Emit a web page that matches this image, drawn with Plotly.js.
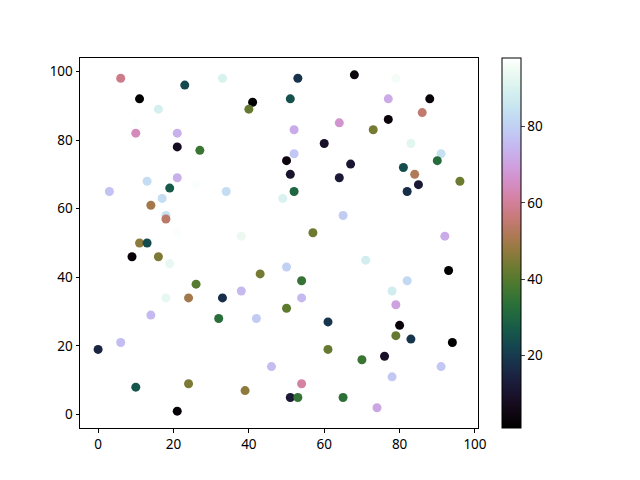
<!DOCTYPE html>
<html>
<head>
<meta charset="utf-8">
<script src="https://cdn.plot.ly/plotly-3.0.1.min.js"></script>
<style>body{margin:0}</style>
</head>
<body>
<div id="chart" style="width:640px;height:480px"></div>
<script>
// scatter points (x, y, colour value)
const xs = [6, 23, 33, 11, 41, 40, 16, 51, 10, 10, 21, 21, 27, 50, 51, 21, 26, 13, 3, 19,
            34, 17, 49, 14, 18, 18, 21, 38, 11, 13, 53, 68, 79, 77, 88, 86, 77, 64, 73, 52,
            60, 83, 52, 91, 67, 81, 90, 84, 64, 85, 96, 82, 52, 65, 57, 92, 9, 16, 19, 43,
            50, 26, 18, 24, 33, 38, 32, 42, 50, 14, 0, 6, 46, 10, 24, 39, 21, 51, 71, 93,
            54, 82, 78, 54, 79, 61, 80, 79, 83, 94, 61, 70, 76, 91, 78, 54, 53, 65, 74];
const ys = [98, 96, 98, 92, 91, 89, 89, 92, 85, 82, 82, 78, 77, 74, 70, 69, 67, 68, 65, 66,
            65, 63, 63, 61, 58, 57, 53, 52, 50, 50, 98, 99, 98, 92, 92, 88, 86, 85, 83, 83,
            79, 79, 76, 76, 73, 72, 74, 70, 69, 67, 68, 65, 65, 58, 53, 52, 46, 46, 44, 41,
            43, 38, 34, 34, 34, 36, 28, 28, 31, 29, 19, 21, 14, 8, 9, 7, 1, 5, 45, 42,
            39, 39, 36, 34, 32, 27, 26, 23, 22, 21, 19, 16, 17, 14, 11, 9, 5, 5, 2];
const vals = [58, 23, 90, 1, 1, 42, 89, 25, 97, 64, 73, 8, 36, 4, 10, 73, 97, 83, 77, 27,
              83, 83, 90, 50, 84, 54, 97, 94, 47, 24, 18, 4, 96, 72, 3, 55, 3, 67, 44, 72,
              9, 92, 78, 84, 11, 24, 32, 52, 12, 12, 43, 17, 30, 79, 43, 72, 3, 45, 93, 44,
              80, 40, 93, 50, 17, 75, 33, 79, 41, 75, 15, 76, 76, 26, 45, 47, 2, 12, 88, 1,
              35, 82, 88, 75, 70, 19, 3, 42, 19, 1, 42, 36, 9, 78, 78, 61, 35, 34, 71];
const cbTicks = [20, 40, 60, 80];

// matplotlib's cubehelix colormap
function cubehelix(n) {
  const out = [];
  for (let i = 0; i < n; i++) {
    const x = i / (n - 1);
    const a = x * (1 - x) / 2;
    const phi = 2 * Math.PI * (0.5 / 3 - 1.5 * x);
    const c = Math.cos(phi), s = Math.sin(phi);
    const clip = v => Math.round(255 * Math.min(1, Math.max(0, v)));
    const r = clip(x + a * (-0.14861 * c + 1.78277 * s));
    const g = clip(x + a * (-0.29227 * c - 0.90649 * s));
    const b = clip(x + a * (1.97294 * c));
    out.push([x, `rgb(${r},${g},${b})`]);
  }
  return out;
}

const tickFont = { family: 'Noto Sans, sans-serif', size: 13.5, color: 'black' };

const data = [{
  x: xs,
  y: ys,
  mode: 'markers',
  type: 'scatter',
  marker: {
    size: 9,
    color: vals,
    cmin: 1,
    cmax: 98,
    colorscale: cubehelix(65),
    showscale: true,
    line: { width: 0 },
    colorbar: {
      x: 1.061,
      xanchor: 'left',
      y: 0.5,
      len: 1,
      lenmode: 'fraction',
      thickness: 18.5,
      outlinewidth: 1,
      outlinecolor: 'black',
      ticks: 'outside',
      ticklen: 3.5,
      tickwidth: 1,
      tickvals: cbTicks,
      tickfont: tickFont,
      xpad: 0,
      ypad: 0
    }
  }
}];

const axisStyle = {
  showgrid: false,
  zeroline: false,
  showline: true,
  mirror: true,
  linecolor: 'black',
  linewidth: 1,
  ticks: 'outside',
  ticklen: 3.5,
  tickwidth: 1,
  tickcolor: 'black',
  tickfont: tickFont
};

const layout = {
  width: 640,
  height: 480,
  margin: { l: 80, r: 162, t: 58, b: 52 },
  paper_bgcolor: 'white',
  plot_bgcolor: 'white',
  font: { family: 'Noto Sans, sans-serif' },
  showlegend: false,
  xaxis: Object.assign({}, axisStyle, { range: [-4.8, 100.8], tickvals: [0, 20, 40, 60, 80, 100] }),
  yaxis: Object.assign({}, axisStyle, { range: [-3.9, 103.9], tickvals: [0, 20, 40, 60, 80, 100] })
};

Plotly.newPlot('chart', data, layout, { staticPlot: true });
</script>
</body>
</html>
